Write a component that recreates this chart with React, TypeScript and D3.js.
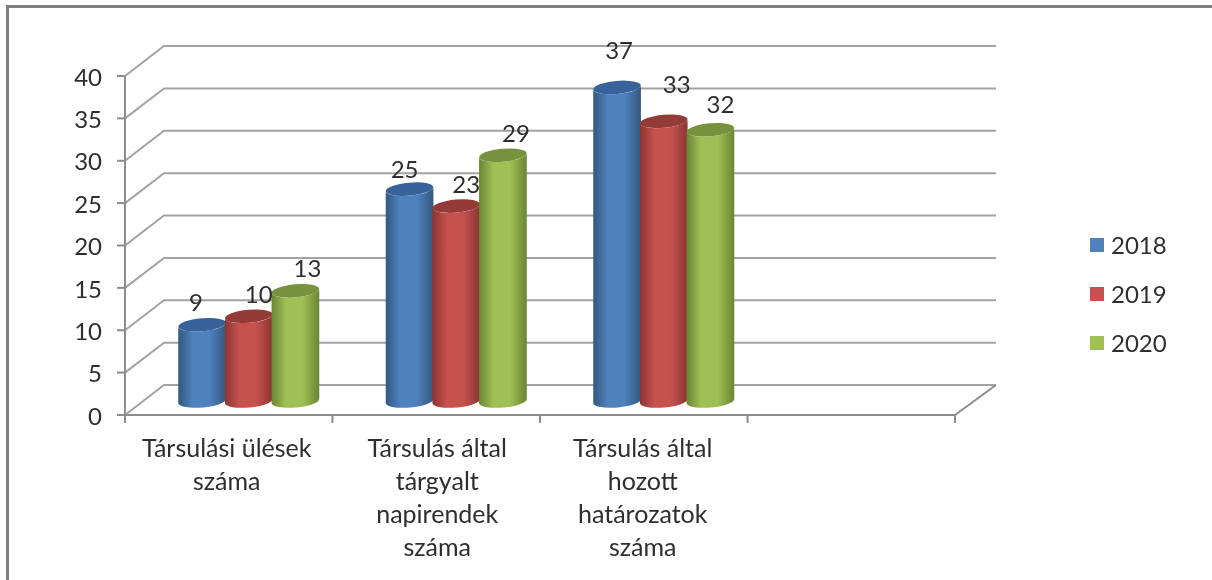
import * as d3 from "d3";

const width = 1212;
const height = 580;

const slots = ["a", "b", "c", "d"];
const categoryLines = [
  ["Társulási ülések", "száma"],
  ["Társulás által", "tárgyalt", "napirendek", "száma"],
  ["Társulás által", "hozott", "határozatok", "száma"],
];
const years = ["2018", "2019", "2020"];
const values2018 = [9, 25, 37];
const values2019 = [10, 23, 33];
const values2020 = [13, 29, 32];
const yTicks = [0, 5, 10, 15, 20, 25, 30, 35, 40];

const seriesValues = [values2018, values2019, values2020];

// colours per series: edge, middle, cap
const shades = [
  ["#31587f", "#4f81bd", "#39649a"],
  ["#8a3533", "#c6514e", "#943b39"],
  ["#6a8533", "#9fc055", "#76923c"],
];

// the labels were moved by hand in the original, so they sit off-centre
const labelNudge = [
  [[-6, -22], [-5, -20], [2, -37]],
  [[10, -22], [10, -22], [13, -37]],
  [[12, -22], [13, -22], [10, -25]],
];
const categoryNudge = [-2, 1, -1];

const left = 125;
const right = 955;
const depthX = 39;
const depthY = 30;
const font = "Lato, Carlito, sans-serif";
const textColor = "#2e2e2e";
const lineColor = "#a3a3a3";

const x = d3.scaleBand<string>().domain(slots).range([left, right]);
const y = d3.scaleLinear().domain([0, 40]).range([415, 76]);
const inner = d3.scaleBand<string>().domain(years).range([-70, 70]);

const rx = inner.bandwidth() / 2 + 0.5;
const ry = 6.5;
const tilt = 2.2;

const Bar = ({ cx, value, series }: { cx: number; value: number; series: number }) => {
  const top = y(value) - depthY / 2 + 1;
  const bottom = y(0) - depthY / 2 + 1;
  const path = d3.path();
  path.moveTo(cx - rx, top + tilt);
  path.lineTo(cx - rx, bottom + tilt);
  const d =
    path.toString() +
    `A${rx},${ry} -5 0 0 ${cx + rx},${bottom - tilt}` +
    `L${cx + rx},${top - tilt}` +
    `A${rx},${ry} -5 0 1 ${cx - rx},${top + tilt}Z`;
  return (
    <g>
      <path d={d} fill={`url(#bar${series})`} />
      <ellipse
        cx={cx}
        cy={top}
        rx={rx}
        ry={ry}
        fill={shades[series][2]}
        transform={`rotate(-5 ${cx} ${top})`}
      />
    </g>
  );
};

export default function App() {
  return (
    <svg
      width={width}
      height={height}
      style={{ position: "absolute", left: 0, top: 0, background: "#fff" }}
      fontFamily={font}
    >
      <defs>
        {shades.map((s, i) => (
          <linearGradient key={i} id={`bar${i}`} x1="0" x2="1" y1="0" y2="0">
            <stop offset="0" stopColor={s[0]} />
            <stop offset="0.3" stopColor={s[1]} />
            <stop offset="0.65" stopColor={s[1]} />
            <stop offset="1" stopColor={s[0]} />
          </linearGradient>
        ))}
        <filter id="soft" x="-5%" y="-5%" width="110%" height="110%">
          <feGaussianBlur stdDeviation="0.6" />
        </filter>
      </defs>
      <g filter="url(#soft)">
        <path d={`M7.5,${height + 5}V6.5H${width + 5}`} fill="none" stroke="#808080" strokeWidth={3} />

        {/* back wall grid and side wall */}
        {yTicks.map((t) => (
          <path
            key={t}
            d={`M${left},${y(t)}L${left + depthX},${y(t) - depthY}H${right + depthX + 2}`}
            fill="none"
            stroke={lineColor}
            strokeWidth={2}
          />
        ))}
        {/* floor */}
        <path
          d={`M${right},${y(0)}L${right + depthX + 2},${y(0) - depthY}`}
          fill="none"
          stroke="#8c8c8c"
          strokeWidth={2}
        />
        {/* axes */}
        <path
          d={`M${left},${y(40)}V${y(0)}H${right}`}
          fill="none"
          stroke="#8c8c8c"
          strokeWidth={2}
        />
        {yTicks.map((t) => (
          <g key={t}>
            <line x1={left - 8} x2={left} y1={y(t)} y2={y(t)} stroke="#8c8c8c" strokeWidth={2} />
            <text
              x={left - 23}
              y={y(t) + 1}
              dy="0.36em"
              textAnchor="end"
              fontSize={24}
              fill={textColor}
            >
              {t}
            </text>
          </g>
        ))}
        {[...slots.map((s) => x(s) as number), right].map((p) => (
          <line key={p} x1={p} x2={p} y1={y(0)} y2={y(0) + 8} stroke="#8c8c8c" strokeWidth={2} />
        ))}

        {/* bars, back-to-front so each overlaps the one on its left */}
        {categoryLines.map((_, c) =>
          years.map((yr, s) => {
            const centre =
              (x(slots[c]) as number) + x.bandwidth() / 2 + depthX / 2 + (inner(yr) as number) + rx;
            return <Bar key={yr} cx={centre} value={seriesValues[s][c]} series={s} />;
          }),
        )}

        {/* data labels */}
        {categoryLines.map((_, c) =>
          years.map((yr, s) => {
            const centre =
              (x(slots[c]) as number) + x.bandwidth() / 2 + depthX / 2 + (inner(yr) as number) + rx;
            const v = seriesValues[s][c];
            return (
              <text
                key={yr}
                x={centre + labelNudge[s][c][0]}
                y={y(v) - depthY / 2 + 1 + labelNudge[s][c][1]}
                dy="0.36em"
                textAnchor="middle"
                fontSize={24}
                fill={textColor}
              >
                {v}
              </text>
            );
          }),
        )}

        {/* category labels */}
        {categoryLines.map((lines, c) => {
          const cx = (x(slots[c]) as number) + x.bandwidth() / 2 + categoryNudge[c];
          return (
            <text key={c} textAnchor="middle" fontSize={25} fill={textColor}>
              {lines.map((line, i) => (
                <tspan key={i} x={cx} y={457 + i * 33}>
                  {line}
                </tspan>
              ))}
            </text>
          );
        })}

        {/* legend */}
        {years.map((yr, s) => (
          <g key={yr} transform={`translate(1090,${245 + s * 49})`}>
            <rect y={-7} width={14} height={14} fill={shades[s][1]} />
            <text x={21} dy="0.36em" fontSize={24} fill={textColor}>
              {yr}
            </text>
          </g>
        ))}
      </g>
    </svg>
  );
}
